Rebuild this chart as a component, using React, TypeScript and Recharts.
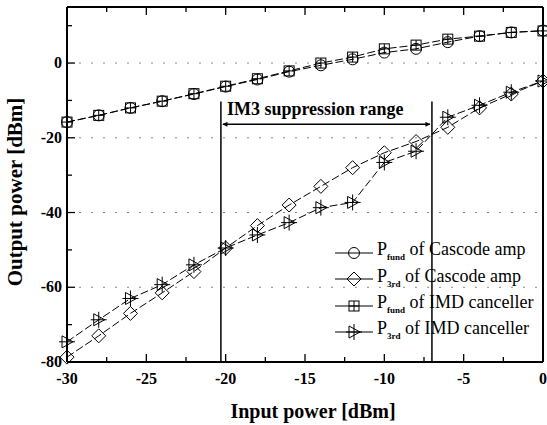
import React from 'react';
import { LineChart, Line, XAxis, YAxis, ReferenceLine } from 'recharts';

const inputPower = [-30, -28, -26, -24, -22, -20, -18, -16, -14, -12, -10, -8, -6, -4, -2, 0];
const fundCascode = [-15.8, -14, -12, -10.2, -8.3, -6.3, -4.4, -2.3, -0.6, 1.0, 2.8, 3.8, 5.6, 7.2, 8.2, 8.7];
const thirdCascode = [-78.7, -73, -67, -61.5, -55.8, -49.5, -43.5, -38, -33, -28, -24, -21, -17.2, -12, -8.3, -4.8];
const fundImd = [-15.8, -14, -12, -10.2, -8.2, -6.2, -4.2, -2.1, 0, 1.6, 3.8, 4.8, 6.4, 7.2, 8.2, 8.6];
const thirdImd = [-74.6, -68.7, -63, -59.3, -54, -49.5, -46, -42.7, -38.7, -37.3, -26.6, -23.6, -14.5, -11.3, -7.8, -4.8];

const xTicks = [-30, -27.5, -25, -22.5, -20, -17.5, -15, -12.5, -10, -7.5, -5, -2.5, 0];
const yTicks = [-80, -70, -60, -50, -40, -30, -20, -10, 0, 10];
const gridValues = [0, -20, -40, -60];

// suppression range bounds (vertical lines) and arrow height
const rangeStart = -20.3;
const rangeEnd = -7;
const rangeTop = -10.3;
const arrowY = -16.4;

const serif = '"Liberation Serif", "Times New Roman", serif';

const data = inputPower.map((x, i) => ({
  x,
  fundCascode: fundCascode[i],
  thirdCascode: thirdCascode[i],
  fundImd: fundImd[i],
  thirdImd: thirdImd[i],
}));

type Kind = 'circle' | 'diamond' | 'square' | 'triangle';

function Marker({ kind, cx, cy }: { kind: Kind; cx: number; cy: number }) {
  const s = { fill: 'none', stroke: '#000', strokeWidth: 1 };
  if (kind === 'circle') return <circle cx={cx} cy={cy} r={5.5} {...s} />;
  if (kind === 'diamond')
    return <polygon points={`${cx},${cy - 7} ${cx + 7},${cy} ${cx},${cy + 7} ${cx - 7},${cy}`} {...s} />;
  if (kind === 'square')
    return (
      <g {...s}>
        <rect x={cx - 5} y={cy - 5} width={10} height={10} />
        <line x1={cx - 5} y1={cy} x2={cx + 5} y2={cy} />
        <line x1={cx} y1={cy - 5} x2={cx} y2={cy + 5} />
      </g>
    );
  return (
    <g {...s}>
      <polygon points={`${cx - 5},${cy - 6} ${cx + 6},${cy} ${cx - 5},${cy + 6}`} />
      <line x1={cx} y1={cy - 8} x2={cx} y2={cy + 8} />
      <line x1={cx - 8} y1={cy} x2={cx + 8} y2={cy} />
    </g>
  );
}

const dotFor = (kind: Kind) => (p: any) => <Marker key={`${kind}-${p.index}`} kind={kind} cx={p.cx} cy={p.cy} />;

const BottomTick = (p: any) => {
  const v = p.payload.value;
  const major = v % 5 === 0;
  return (
    <g>
      <line x1={p.x} y1={p.y} x2={p.x} y2={p.y - (major ? 8 : 5)} stroke="#000" strokeWidth={1.3} />
      {major && (
        <text x={p.x} y={p.y + 22} textAnchor="middle" fontFamily={serif} fontWeight="bold" fontSize={16} fill="#000">
          {v}
        </text>
      )}
    </g>
  );
};

const TopTick = (p: any) => {
  const major = p.payload.value % 5 === 0;
  return <line x1={p.x} y1={p.y} x2={p.x} y2={p.y + (major ? 8 : 5)} stroke="#000" strokeWidth={1.3} />;
};

const LeftTick = (p: any) => {
  const v = p.payload.value;
  const major = v % 20 === 0;
  return (
    <g>
      <line x1={p.x} y1={p.y} x2={p.x + (major ? 8 : 5)} y2={p.y} stroke="#000" strokeWidth={1.3} />
      {major && (
        <text x={p.x - 5} y={p.y + 5} textAnchor="end" fontFamily={serif} fontWeight="bold" fontSize={16} fill="#000">
          {v}
        </text>
      )}
    </g>
  );
};

const RightTick = (p: any) => {
  const major = p.payload.value % 20 === 0;
  return <line x1={p.x} y1={p.y} x2={p.x - (major ? 8 : 5)} y2={p.y} stroke="#000" strokeWidth={1.3} />;
};

const legendItems: { kind: Kind; sub: string; label: string }[] = [
  { kind: 'circle', sub: 'fund', label: ' of Cascode amp' },
  { kind: 'diamond', sub: '3rd', label: ' of Cascode amp' },
  { kind: 'square', sub: 'fund', label: ' of IMD canceller' },
  { kind: 'triangle', sub: '3rd', label: ' of IMD canceller' },
];

const LegendBox = () => (
  <div style={{ position: 'absolute', left: 334, top: 240, fontFamily: serif, fontSize: 18, color: '#000' }}>
    {legendItems.map((it) => (
      <div key={it.kind} style={{ display: 'flex', alignItems: 'center', height: 26.3 }}>
        <svg width={40} height={20} style={{ marginRight: 3 }}>
          <line x1={1} y1={10} x2={39} y2={10} stroke="#000" strokeWidth={1} />
          <Marker kind={it.kind} cx={20} cy={10} />
        </svg>
        <span style={{ whiteSpace: 'nowrap', lineHeight: '20px' }}>
          P<sub style={{ fontSize: 9, fontWeight: 'bold' }}>{it.sub}</sub>
          {it.label}
        </span>
      </div>
    ))}
  </div>
);

const ArrowShape = (p: any) => (
  <g>
    <line x1={p.x1 + 2} y1={p.y1} x2={p.x2 - 2} y2={p.y2} stroke="#000" strokeWidth={1.5}
      markerStart="url(#arrowHead)" markerEnd="url(#arrowHead)" />
    <text x={p.x1 + 6} y={p.y1 - 9} textAnchor="start" fontFamily={serif} fontWeight="bold" fontSize={18} fill="#000">
      IM3 suppression range
    </text>
  </g>
);

export default function App() {
  return (
    <div style={{ position: 'absolute', left: 0, top: 0, width: 547, height: 425, background: '#fff' }}>
      <LineChart width={547} height={425} data={data} margin={{ top: 6, right: 3, bottom: 62, left: 66 }}>
        <defs>
          <marker id="arrowHead" viewBox="0 0 10 10" refX="9" refY="5" markerWidth="7" markerHeight="5"
            orient="auto-start-reverse" markerUnits="userSpaceOnUse">
            <path d="M0,0 L10,5 L0,10 z" fill="#000" />
          </marker>
        </defs>
        <XAxis dataKey="x" type="number" domain={[-30, 0]} ticks={xTicks} interval={0} height={1}
          tickSize={0} tickMargin={0} tickLine={false} tick={BottomTick} axisLine={{ stroke: '#000', strokeWidth: 2 }} />
        <XAxis xAxisId="top" orientation="top" dataKey="x" type="number" domain={[-30, 0]} ticks={xTicks} interval={0}
          height={1} tickSize={0} tickMargin={0} tickLine={false} tick={TopTick} axisLine={{ stroke: '#000', strokeWidth: 2 }} />
        <YAxis type="number" domain={[-80, 15]} ticks={yTicks} interval={0} width={1} tickSize={0} tickMargin={0}
          tickLine={false} tick={LeftTick} axisLine={{ stroke: '#000', strokeWidth: 2 }} />
        <YAxis yAxisId="right" orientation="right" type="number" domain={[-80, 15]} ticks={yTicks} interval={0}
          width={1} tickSize={0} tickMargin={0} tickLine={false} tick={RightTick} axisLine={{ stroke: '#000', strokeWidth: 2 }} />
        {gridValues.map((g) => (
          <ReferenceLine key={g} y={g} stroke="#888" strokeDasharray="2 10" strokeWidth={1} />
        ))}
        <ReferenceLine segment={[{ x: rangeStart, y: rangeTop }, { x: rangeStart, y: -80 }]} stroke="#000" strokeWidth={1.5} />
        <ReferenceLine segment={[{ x: rangeEnd, y: rangeTop }, { x: rangeEnd, y: -80 }]} stroke="#000" strokeWidth={1.5} />
        <ReferenceLine segment={[{ x: rangeStart, y: arrowY }, { x: rangeEnd, y: arrowY }]} shape={ArrowShape} />
        <Line dataKey="fundCascode" stroke="#000" strokeWidth={1} strokeDasharray="8 3" dot={dotFor('circle')} isAnimationActive={false} />
        <Line dataKey="thirdCascode" stroke="#000" strokeWidth={1} strokeDasharray="8 3" dot={dotFor('diamond')} isAnimationActive={false} />
        <Line dataKey="fundImd" stroke="#000" strokeWidth={1} strokeDasharray="8 3" dot={dotFor('square')} isAnimationActive={false} />
        <Line dataKey="thirdImd" stroke="#000" strokeWidth={1} strokeDasharray="8 3" dot={dotFor('triangle')} isAnimationActive={false} />
        <text x={313} y={418} textAnchor="middle" fontFamily={serif} fontWeight="bold" fontSize={20} fill="#000">
          Input power [dBm]
        </text>
        <text x={22} y={192} textAnchor="middle" fontFamily={serif} fontWeight="bold" fontSize={21} fill="#000"
          transform="rotate(-90 22 192)">
          Output power [dBm]
        </text>
      </LineChart>
      <LegendBox />
    </div>
  );
}
